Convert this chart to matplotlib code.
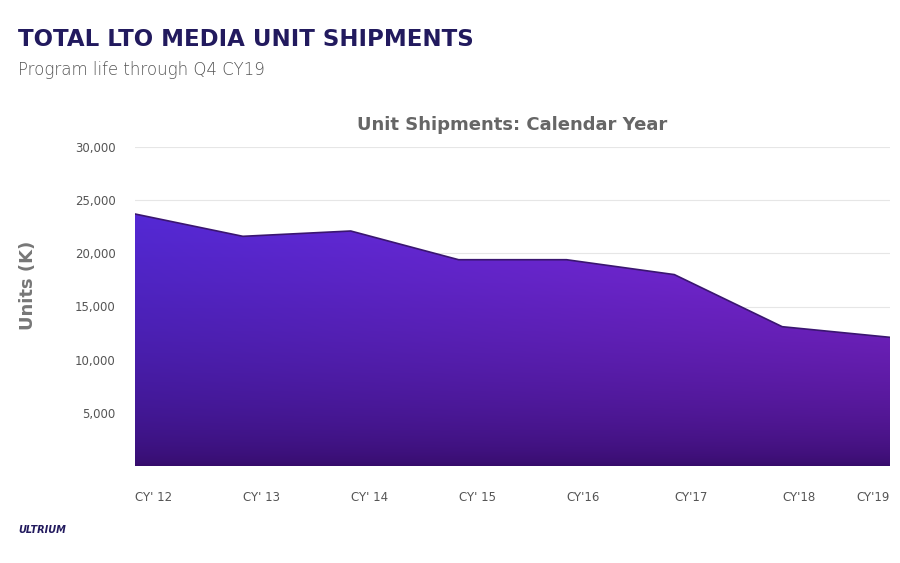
import matplotlib.pyplot as plt
import numpy as np
from matplotlib.patches import Polygon

years = ["CY' 12", "CY' 13", "CY' 14", "CY' 15", "CY'16", "CY'17", "CY'18", "CY'19"]
units = [23700, 21600, 22100, 19400, 19400, 18000, 13100, 12100]

fig = plt.figure(figsize=(9, 5.63), dpi=100)
ax = fig.add_axes([0.15, 1 - 466 / 563, 0.839, (466 - 147) / 563])

x = np.arange(len(years))
ax.set_xlim(0, len(years) - 1)
ax.set_ylim(0, 30000)

# gradient image clipped by the area
h, w = 200, 300
gx = np.linspace(0, 1, w)[None, :]
gy = np.linspace(0, 1, h)[:, None]  # 0 bottom -> 1 top
c_left = np.array([0x55, 0x2a, 0xd8]) / 255
c_mid = np.array([0x86, 0x2a, 0xe0]) / 255
c_dark = np.array([0x36, 0x0c, 0x6a]) / 255
top = c_left[None, None, :] * (1 - gx[..., None]) + c_mid[None, None, :] * gx[..., None]
img = c_dark * (1 - gy[..., None] ** 0.6) + top * gy[..., None] ** 0.6
img = np.clip(img, 0, 1)
im = ax.imshow(img, extent=[0, len(years) - 1, 0, 25000], origin="lower",
               aspect="auto", zorder=2)
verts = [(0, 0)] + list(zip(x, units)) + [(x[-1], 0)]
poly = Polygon(verts, closed=True, facecolor="none", edgecolor="none")
ax.add_patch(poly)
im.set_clip_path(poly)
ax.plot(x, units, color="#3a1670", lw=1.2, zorder=3)

ax.set_yticks([5000, 10000, 15000, 20000, 25000, 30000])
ax.set_yticklabels(["5,000", "10,000", "15,000", "20,000", "25,000", "30,000"])
ax.set_xticks(x)
ax.set_xticklabels(years)
for i, lab in enumerate(ax.get_xticklabels()):
    lab.set_ha("right" if i == len(years) - 1 else "left")
ax.tick_params(length=0, labelsize=8.5, colors="#555555")
ax.tick_params(axis="x", pad=18)
ax.tick_params(axis="y", pad=14)
ax.grid(axis="y", color="#e6e6e6", lw=0.8, zorder=0)
ax.set_axisbelow(True)
for s in ax.spines.values():
    s.set_visible(False)

ax.set_title("Unit Shipments: Calendar Year", fontsize=13, fontweight="bold",
             color="#666666", pad=12)
fig.text(28 / 900, 1 - 285 / 563, "Units (K)", rotation=90, fontsize=13,
         fontweight="bold", color="#777777", ha="center", va="center")

fig.text(18 / 900, 1 - 40 / 563, "TOTAL LTO MEDIA UNIT SHIPMENTS", fontsize=16.5,
         fontweight="heavy", color="#221a5e", va="center")
fig.text(18 / 900, 1 - 70 / 563, "Program life through Q4 CY19", fontsize=12,
         fontweight="light", color="#555555", va="center")
fig.text(18 / 900, 1 - 530 / 563, "ULTRIUM", fontsize=7, fontweight="heavy",
         style="italic", color="#221a5e", va="center")

fig.savefig("out.png", dpi=100)
